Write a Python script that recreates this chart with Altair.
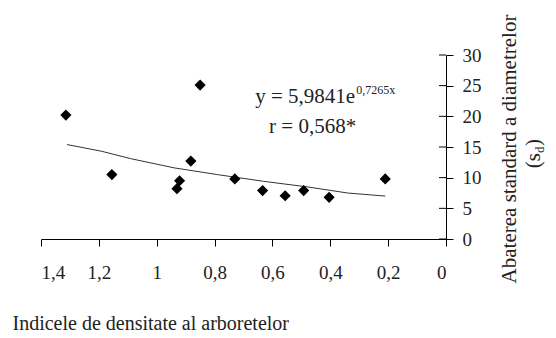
import altair as alt
import pandas as pd

# Scatter data
dens = [1.314, 1.155, 0.930, 0.921, 0.882, 0.850, 0.730, 0.634, 0.556, 0.492, 0.404, 0.210]
sd = [20.2, 10.5, 8.2, 9.5, 12.7, 25.1, 9.8, 7.9, 7.05, 7.9, 6.8, 9.8]

# Trend line
trend_x = [1.31, 1.19, 1.09, 0.94, 0.79, 0.63, 0.48, 0.34, 0.21]
trend_y = [15.4, 14.3, 13.1, 11.6, 10.5, 9.4, 8.5, 7.5, 7.0]

x_ticks = [0, 0.2, 0.4, 0.6, 0.8, 1.0, 1.2, 1.4]
y_ticks = [0, 5, 10, 15, 20, 25, 30]

x_title = "Indicele de densitate al arboretelor"
y_title = "Abaterea standard a diametrelor"
eq_main = "y = 5,9841e"
eq_sup = "0,7265x"
r_text = "r = 0,568*"

FONT = "Liberation Serif"
TXT = "#222"
W, H = 405, 184

pts = pd.DataFrame({"x": dens, "y": sd})
tr = pd.DataFrame({"x": trend_x, "y": trend_y})

xs = alt.Scale(domain=[0, 1.4], reverse=True, nice=False, zero=False)
ys = alt.Scale(domain=[0, 30], nice=False)

x_axis = alt.Axis(
    values=x_ticks, orient="bottom", grid=False, domainColor="black", tickColor="black",
    tickSize=7, labelPadding=17, labelFontSize=19, labelFont=FONT, labelColor=TXT,
    labelOverlap=False,
    labelExpr="replace(format(datum.value, '.1~f'), '.', ',')",
    title=x_title, titleFont=FONT, titleFontSize=20, titleFontWeight="normal",
    titleColor=TXT, titleX=-29, titleY=84, titleAlign="left", titleBaseline="middle",
    titleAnchor="start",
)
y_axis = alt.Axis(
    values=y_ticks, orient="right", grid=False, domainColor="black", tickColor="black",
    tickSize=7, labelPadding=9, labelFontSize=19, labelFont=FONT, labelColor=TXT,
    labelOverlap=False, labelBaseline="middle", title=None,
)

X = alt.X("x:Q", scale=xs, axis=x_axis)
Y = alt.Y("y:Q", scale=ys, axis=y_axis)

scatter = alt.Chart(pts).mark_point(
    shape="diamond", filled=True, color="black", size=125, opacity=1
).encode(x=X, y=Y)

line = alt.Chart(tr).mark_line(color="#333", strokeWidth=1).encode(x=X, y=Y)

# left half of the crossing y-axis ticks
tick_df = pd.DataFrame({"y": y_ticks})
left_ticks = alt.Chart(tick_df).mark_rule(color="black", strokeWidth=1).encode(
    x=alt.value(W - 7), x2=alt.value(W), y=Y
)

ann = pd.DataFrame({"x": [0.314], "y": [23.2]})
eq1 = alt.Chart(ann).mark_text(
    font=FONT, fontSize=21, align="right", baseline="middle", color=TXT
).encode(x=X, y=Y, text=alt.value(eq_main))
eq2 = alt.Chart(ann).mark_text(
    font=FONT, fontSize=12, align="left", baseline="middle", dy=-7, dx=1, color=TXT
).encode(x=X, y=Y, text=alt.value(eq_sup))

ann_r = pd.DataFrame({"x": [0.461], "y": [18.3]})
rt = alt.Chart(ann_r).mark_text(
    font=FONT, fontSize=21, align="center", baseline="middle", color=TXT
).encode(x=X, y=Y, text=alt.value(r_text))

# rotated y title
one = pd.DataFrame({"k": [0]})
yt1 = alt.Chart(one).mark_text(
    font=FONT, fontSize=21, angle=270, align="center", baseline="middle", color=TXT
).encode(x=alt.value(469), y=alt.value(94), text=alt.value(y_title))
yt2 = alt.Chart(one).mark_text(
    font=FONT, fontSize=21, angle=270, align="right", baseline="middle", color=TXT
).encode(x=alt.value(493), y=alt.value(98), text=alt.value("(s"))
yt3 = alt.Chart(one).mark_text(
    font=FONT, fontSize=13, angle=270, align="left", baseline="middle", color=TXT
).encode(x=alt.value(499), y=alt.value(98), text=alt.value("d"))
yt4 = alt.Chart(one).mark_text(
    font=FONT, fontSize=21, angle=270, align="left", baseline="middle", color=TXT
).encode(x=alt.value(493), y=alt.value(91), text=alt.value(")"))

chart = alt.layer(line, scatter, left_ticks, eq1, eq2, rt, yt1, yt2, yt3, yt4).properties(
    width=W, height=H,
    background="white",
    autosize=alt.AutoSizeParams(type="none"),
    padding={"left": 33, "top": 47, "right": 102, "bottom": 95},
).configure_view(stroke=None)

chart.save("out.html", embed_options={"renderer": "svg", "actions": False})
